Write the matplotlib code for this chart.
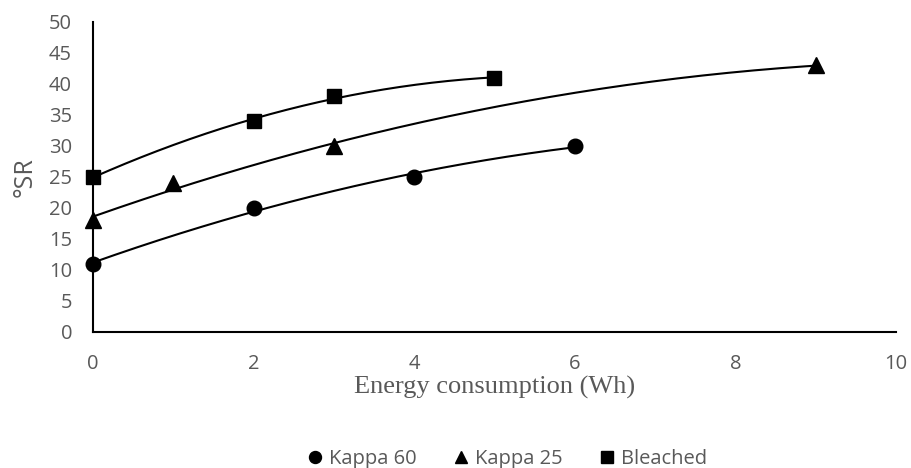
import numpy as np
import matplotlib
matplotlib.use("Agg")
import matplotlib.pyplot as plt

# data
kappa60_x = [0, 2, 4, 6]
kappa60_y = [11, 20, 25, 30]
kappa25_x = [0, 1, 3, 9]
kappa25_y = [18, 24, 30, 43]
bleached_x = [0, 2, 3, 5]
bleached_y = [25, 34, 38, 41]

series = [
    ("Kappa 60", kappa60_x, kappa60_y, "o"),
    ("Kappa 25", kappa25_x, kappa25_y, "^"),
    ("Bleached", bleached_x, bleached_y, "s"),
]

gray = "#595959"
fig = plt.figure(figsize=(9.11, 4.68), dpi=100)
ax = fig.add_axes([0.102, 0.2906, 0.8815, 0.6624])

for name, xs, ys, mk in series:
    xs = np.array(xs, float)
    ys = np.array(ys, float)
    # 2nd order polynomial trendline (Excel style)
    c = np.polyfit(xs, ys, 2)
    xx = np.linspace(xs.min(), xs.max(), 200)
    ax.plot(xx, np.polyval(c, xx), color="black", lw=1.5, zorder=2)
    ax.plot(xs, ys, linestyle="none", marker=mk, color="black",
            markersize=10.5 if mk != "^" else 11, label=name, zorder=3, clip_on=False)

ax.set_xlim(0, 10)
ax.set_ylim(0, 50)
ax.set_xticks(range(0, 11, 2))
ax.set_yticks(range(0, 51, 5))
for s in ["top", "right"]:
    ax.spines[s].set_visible(False)
for s in ["left", "bottom"]:
    ax.spines[s].set_linewidth(1.5)
    ax.spines[s].set_color("black")
ax.tick_params(length=0, labelsize=14.5, labelcolor=gray)
ax.tick_params(axis="x", pad=16)
ax.tick_params(axis="y", pad=15)
for lab in ax.get_xticklabels() + ax.get_yticklabels():
    lab.set_fontfamily("Open Sans")

ax.set_ylabel("°SR", fontsize=18, color=gray, fontfamily="Open Sans", labelpad=8)
ax.set_xlabel("Energy consumption (Wh)", fontsize=19, color=gray,
              fontfamily="Liberation Serif", labelpad=1)

leg = fig.legend(loc="lower center", bbox_to_anchor=(0.55, -0.04), ncol=3, frameon=False,
                 handletextpad=-0.3, columnspacing=1.2, markerscale=0.82,
                 prop={"family": "Open Sans", "size": 14.5})
for t in leg.get_texts():
    t.set_color(gray)

fig.savefig("out.png", dpi=100)
